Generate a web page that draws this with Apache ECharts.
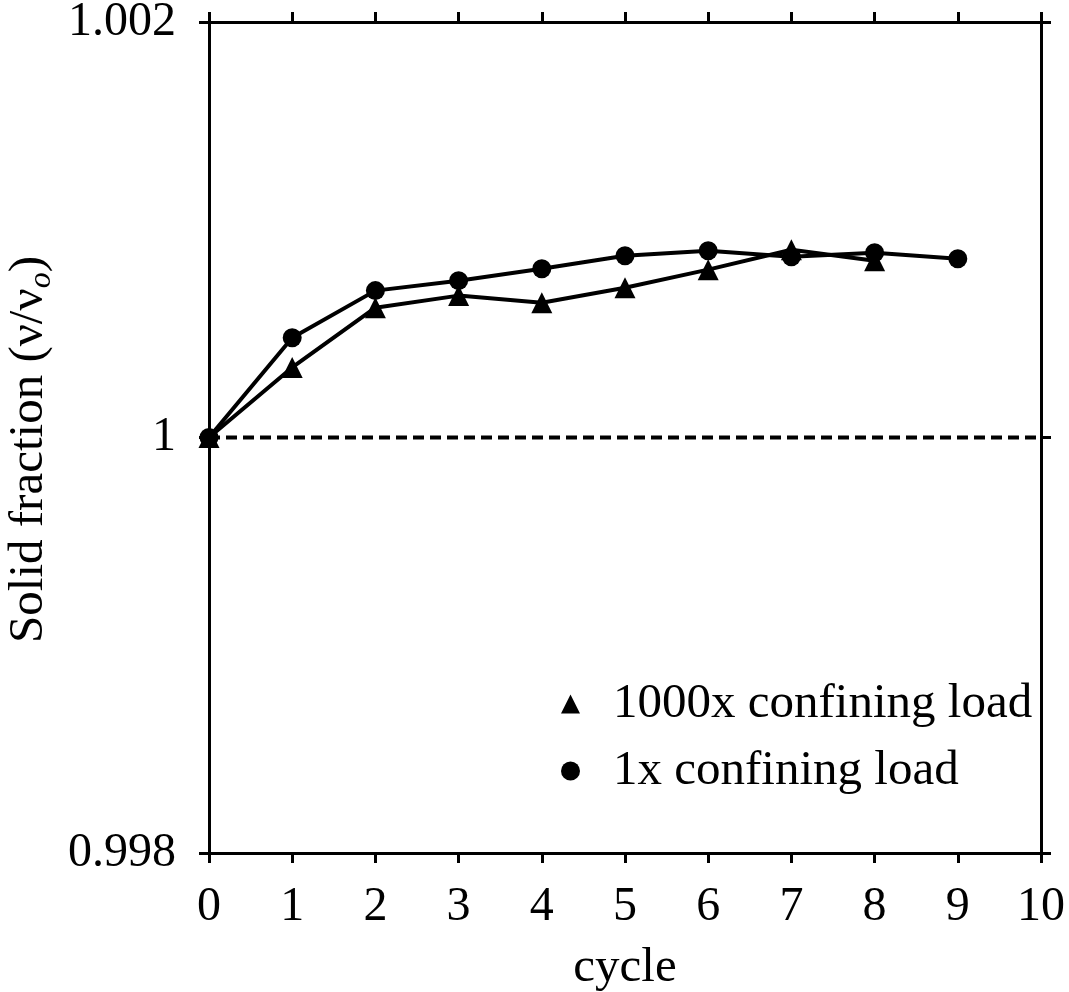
<!DOCTYPE html>
<html>
<head>
<meta charset="utf-8">
<script src="https://cdn.jsdelivr.net/npm/echarts@6/dist/echarts.min.js"></script>
<style>
  html, body { margin: 0; padding: 0; background: #fff; }
  #chart { width: 1069px; height: 992px; }
</style>
</head>
<body>
<div id="chart"></div>
<script>
// Cycle numbers and solid-fraction readings for each confining load
const cycles = [0, 1, 2, 3, 4, 5, 6, 7, 8, 9];
const load1000x = [1.0, 1.000337, 1.000625, 1.000683, 1.000649, 1.000721, 1.000808, 1.000904, 1.000851];
const load1x = [1.0, 1.00048, 1.000707, 1.000755, 1.000812, 1.000875, 1.000899, 1.00087, 1.000889, 1.00086];
// Reference level v/vo = 1 across the cycle range
const refX = [0, 10];
const refY = [1, 1];
// Axis ranges and tick spacing
const xTicks = { min: 0, max: 10, interval: 1 };
const yTicks = { min: 0.998, max: 1.002, interval: 0.002 };
const seriesNames = ['1000x confining load', '1x confining load'];

const FONT = 'Liberation Serif';
const axisLine = { show: true, onZero: false, lineStyle: { color: '#000', width: 3 } };
const axisTick = { show: true, inside: false, length: 10, lineStyle: { color: '#000', width: 3 } };

function pairs(xs, ys) { return ys.map((y, i) => [xs[i], y]); }
function fmtY(v) { return String(parseFloat(v.toFixed(4))); }

const chart = echarts.init(document.getElementById('chart'), null, { renderer: 'canvas' });
chart.setOption({
  animation: false,
  backgroundColor: '#fff',
  grid: { left: 209, right: 28, top: 22, bottom: 139, containLabel: false, outerBoundsMode: 'none' },
  legend: {
    orient: 'vertical',
    left: 556,
    top: 674,
    itemWidth: 19,
    itemHeight: 19,
    itemGap: 17,
    selectedMode: false,
    textStyle: { fontFamily: FONT, fontSize: 49, color: '#000', lineHeight: 50, padding: [0, 0, 0, 28] },
    data: [
      { name: seriesNames[0], icon: 'triangle', itemStyle: { color: '#000' } },
      { name: seriesNames[1], icon: 'circle', itemStyle: { color: '#000' } }
    ]
  },
  xAxis: [
    {
      type: 'value', position: 'bottom', min: xTicks.min, max: xTicks.max, interval: xTicks.interval,
      axisLine, axisTick, splitLine: { show: false },
      axisLabel: { color: '#000', fontFamily: FONT, fontSize: 48, margin: 30 },
      name: 'cycle', nameLocation: 'middle', nameGap: 91,
      nameTextStyle: { color: '#000', fontFamily: FONT, fontSize: 49 }
    },
    {
      type: 'value', position: 'top', min: xTicks.min, max: xTicks.max, interval: xTicks.interval,
      axisLine, axisTick, splitLine: { show: false }, axisLabel: { show: false }
    }
  ],
  yAxis: [
    {
      type: 'value', position: 'left', min: yTicks.min, max: yTicks.max, interval: yTicks.interval,
      axisLine, axisTick, splitLine: { show: false },
      axisLabel: { color: '#000', fontFamily: FONT, fontSize: 48, margin: 33, formatter: fmtY },
      name: '{a|Solid fraction (ν/ν}{s|o}{a|)}',
      nameLocation: 'middle', nameGap: 143, nameRotate: 90,
      nameTextStyle: {
        color: '#000', fontFamily: FONT, fontSize: 49,
        padding: [0, 24, 0, 0],
        rich: {
          a: { fontFamily: FONT, fontSize: 49, color: '#000', lineHeight: 56, verticalAlign: 'middle' },
          s: { fontFamily: FONT, fontSize: 32, fontStyle: 'italic', color: '#000', lineHeight: 18, verticalAlign: 'bottom' }
        }
      }
    },
    {
      type: 'value', position: 'right', min: yTicks.min, max: yTicks.max, interval: yTicks.interval,
      axisLine, axisTick, splitLine: { show: false }, axisLabel: { show: false }
    }
  ],
  series: [
    {
      name: 'reference', type: 'line', xAxisIndex: 0, yAxisIndex: 0,
      data: pairs(refX, refY), symbol: 'none', silent: true,
      lineStyle: { color: '#000', width: 4, type: [11, 6] }, z: 1
    },
    {
      name: seriesNames[1], type: 'line', xAxisIndex: 0, yAxisIndex: 0,
      data: pairs(cycles, load1x), symbol: 'circle', symbolSize: 19,
      itemStyle: { color: '#000' }, lineStyle: { color: '#000', width: 4 }, z: 3
    },
    {
      name: seriesNames[0], type: 'line', xAxisIndex: 0, yAxisIndex: 0,
      data: pairs(cycles, load1000x), symbol: 'triangle', symbolSize: 21,
      itemStyle: { color: '#000' }, lineStyle: { color: '#000', width: 4 }, z: 4
    }
  ]
});
</script>
</body>
</html>
